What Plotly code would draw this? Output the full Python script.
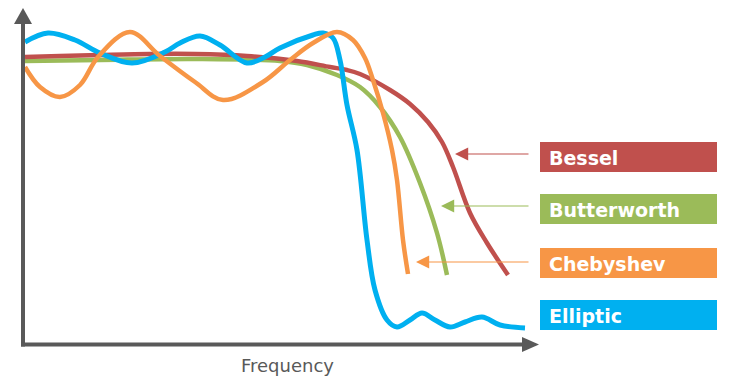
import plotly.graph_objects as go

# Series names and colours
series_names = ["Bessel", "Butterworth", "Chebyshev", "Elliptic"]
series_colors = ["#C0504D", "#9BBB59", "#F79646", "#00B0F0"]

# Curve samples (frequency position, response position; screen-like units)
bessel_f = [25, 60, 100, 150, 195, 247, 297, 330, 347, 360, 390, 410, 428, 442, 453, 470, 487, 508]
bessel_r = [57, 56, 55, 54, 54, 56, 61, 67, 70, 74, 90, 104, 122, 142, 167, 213, 243, 275]

butter_f = [25, 100, 195, 280, 307, 337, 360, 380, 400, 420, 437, 447]
butter_r = [61, 60, 59, 61, 65, 75, 87, 107, 137, 183, 233, 275]

cheby_f = [25, 40, 60, 80, 98, 130, 160, 195, 223, 263, 290, 313, 337, 353, 365, 373, 383, 392, 397, 403, 408]
cheby_r = [67, 87, 97, 85, 57, 32, 56, 82, 100, 82, 60, 43, 32, 40, 58, 80, 113, 150, 180, 240, 274]

ellip_f = [25, 48, 75, 100, 132, 165, 180, 200, 220, 247, 265, 280, 313, 323, 333, 340, 347, 357, 367, 375,
           387, 397, 410, 422, 435, 450, 465, 482, 500, 525]
ellip_r = [42, 33, 40, 53, 63, 52, 43, 36, 45, 63, 57, 48, 35, 33, 38, 60, 105, 150, 240, 290,
           320, 327, 320, 313, 320, 327, 322, 317, 325, 328]

x_label = "Frequency"

W, H = 739, 383
axis_color = "#595959"

fig = go.Figure()

draw_order = [1, 0, 3, 2]
data = [(bessel_f, bessel_r), (butter_f, butter_r), (cheby_f, cheby_r), (ellip_f, ellip_r)]
for i in draw_order:
    fx, fy = data[i]
    fig.add_trace(go.Scatter(
        x=fx, y=fy, mode="lines", name=series_names[i],
        line=dict(color=series_colors[i], width=5 if i == 3 else 4.5, shape="spline", smoothing=1.0),
        hoverinfo="skip", showlegend=False))

shapes = []
# Axes with arrowheads
shapes.append(dict(type="line", xref="x", yref="y", x0=23, x1=23, y0=346.5, y1=22,
                   line=dict(color=axis_color, width=4)))
shapes.append(dict(type="path", xref="x", yref="y", path="M 23 8 L 14 24 L 32 24 Z",
                   fillcolor=axis_color, line=dict(width=0)))
shapes.append(dict(type="line", xref="x", yref="y", x0=21, x1=524, y0=344.5, y1=344.5,
                   line=dict(color=axis_color, width=4)))
shapes.append(dict(type="path", xref="x", yref="y", path="M 539 344.5 L 522 337 L 522 352 Z",
                   fillcolor=axis_color, line=dict(width=0)))

annotations = []
box_tops = [142, 194, 248, 300]
arrow_tips = [455, 441, 416, None]
for i, name in enumerate(series_names):
    y0 = box_tops[i]
    y1 = y0 + 30
    shapes.append(dict(type="rect", xref="x", yref="y", x0=540, x1=717, y0=y0, y1=y1,
                       fillcolor=series_colors[i], line=dict(width=0)))
    annotations.append(dict(x=547, y=(y0 + y1) / 2 + 1, xref="x", yref="y", text=name,
                            showarrow=False, xanchor="left", yanchor="middle",
                            font=dict(family="DejaVu Sans", size=19, color="white", weight="bold")))
    if arrow_tips[i] is not None:
        ya = (y0 + y1) / 2 - 3
        if i == 2:
            ya = 262
        annotations.append(dict(x=arrow_tips[i], y=ya, ax=530, ay=ya, xref="x", yref="y",
                                axref="x", ayref="y", text="", showarrow=True,
                                arrowhead=2, arrowsize=2.2, arrowwidth=1.2,
                                arrowcolor=series_colors[i]))

annotations.append(dict(x=287, y=365, xref="x", yref="y", text=x_label, showarrow=False,
                        xanchor="center", yanchor="middle",
                        font=dict(family="DejaVu Sans", size=18, color=axis_color)))

fig.update_layout(
    width=W, height=H, margin=dict(l=0, r=0, t=0, b=0),
    paper_bgcolor="white", plot_bgcolor="white",
    xaxis=dict(range=[0, W], visible=False, fixedrange=True),
    yaxis=dict(range=[H, 0], visible=False, fixedrange=True),
    shapes=shapes, annotations=annotations,
)

fig.write_html("out.html", config={"displayModeBar": False},
               post_script="document.body.style.margin='0';document.body.style.overflow='hidden';")
